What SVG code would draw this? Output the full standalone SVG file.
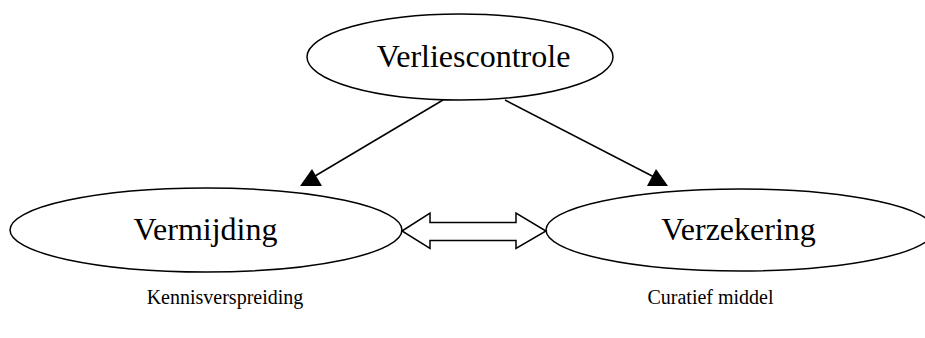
<svg xmlns="http://www.w3.org/2000/svg" width="925" height="338" viewBox="0 0 925 338">
<style>
.node{fill:#fff;stroke:#000;stroke-width:1.5}
.lbl{font-family:"Liberation Serif","Times New Roman",serif;fill:#000;text-anchor:middle}
.big{font-size:32px}
.small{font-size:20px}
.conn{stroke:#000;stroke-width:1.5;fill:none}
.head{fill:#000;stroke:none}
</style>
<rect width="925" height="338" fill="#fff"/>
<g id="verliescontrole">
<ellipse class="node" cx="460" cy="57" rx="153" ry="43"/>
<text class="lbl big" x="473.5" y="67">Verliescontrole</text>
</g>
<g id="vermijding">
<ellipse class="node" cx="206" cy="230" rx="196" ry="42"/>
<text class="lbl big" x="205.5" y="240">Vermijding</text>
</g>
<g id="verzekering">
<ellipse class="node" cx="740" cy="230" rx="194" ry="41"/>
<text class="lbl big" x="738.5" y="240">Verzekering</text>
</g>
<g id="kennisverspreiding">
<text class="lbl small" x="225" y="304">Kennisverspreiding</text>
</g>
<g id="curatief">
<text class="lbl small" x="710.5" y="304">Curatief middel</text>
</g>
<g id="connectors">
<line class="conn" x1="443" y1="100" x2="310" y2="179"/>
<polygon class="head" points="300,186 322,186 312,169"/>
<line class="conn" x1="505" y1="100" x2="656" y2="178"/>
<polygon class="head" points="647,186 668,186 656,169"/>
<polygon class="conn" style="fill:#fff" points="402,231 430,213 430,222.5 516,222.5 516,213 546,231 516,248.5 516,240.5 430,240.5 430,248.5"/>
</g>
</svg>
